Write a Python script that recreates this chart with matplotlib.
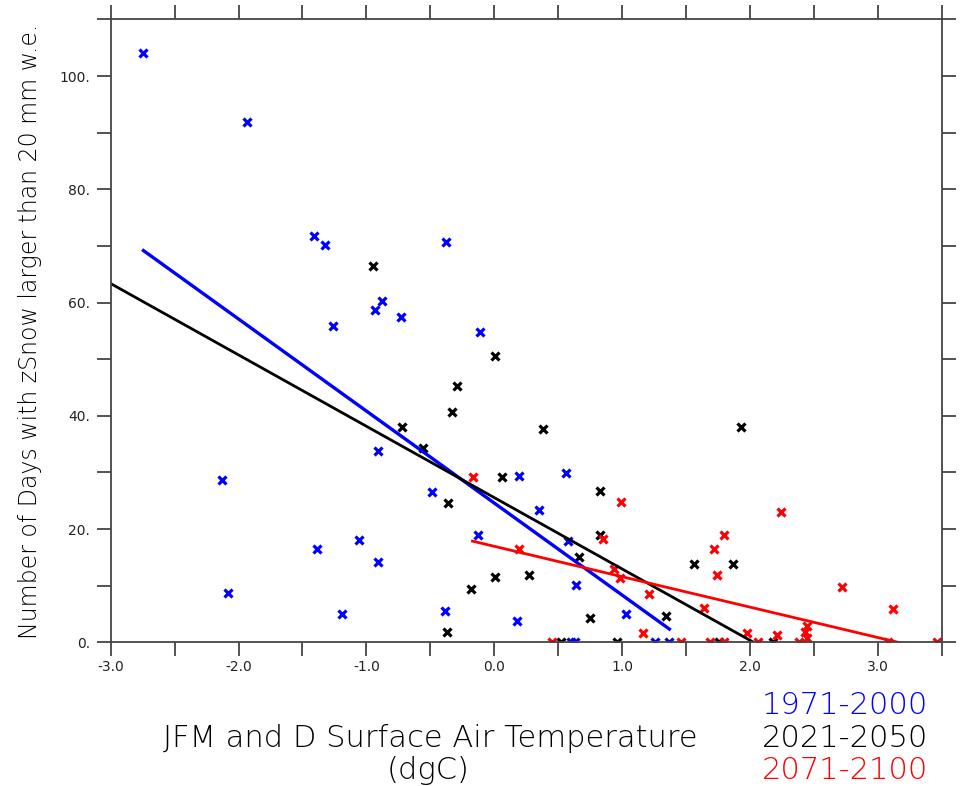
import numpy as np
import matplotlib
matplotlib.use("Agg")
import matplotlib.pyplot as plt
from matplotlib.ticker import MultipleLocator, FormatStrFormatter

# 1971-2000 (blue)
t_1971 = [-2.744, -1.936, -1.407, -1.32, -0.378, -1.26, -0.88, -0.93, -0.73, -0.11,
          -2.13, -0.91, -0.49, -1.39, -1.06, -0.91, -2.08, -1.19, -0.385, -0.125,
          0.19, 0.175, 0.35, 0.56, 0.58, 0.64, 1.03, 0.60, 0.63, 1.26, 1.37]
d_1971 = [104.0, 91.9, 71.8, 70.1, 70.7, 55.9, 60.2, 58.7, 57.5, 54.8,
          28.7, 33.8, 26.5, 16.5, 18.0, 14.2, 8.7, 5.0, 5.5, 18.9,
          29.4, 3.8, 23.3, 29.9, 17.9, 10.1, 5.0, 0.0, 0.0, 0.0, 0.0]

# 2021-2050 (black)
t_2021 = [-0.946, 0.005, -0.29, -0.33, 0.38, -0.72, -0.56, 0.058, 0.83, -0.36,
          0.83, 0.66, 0.008, 0.27, -0.18, 0.75, -0.37, 0.52, 0.96, 1.34,
          1.56, 1.87, 1.93, 1.76, 2.18]
d_2021 = [66.5, 50.6, 45.2, 40.6, 37.6, 38.0, 34.4, 29.2, 26.7, 24.6,
          19.0, 15.0, 11.5, 11.9, 9.4, 4.3, 1.8, 0.0, 0.0, 4.6,
          13.8, 13.8, 38.0, 0.0, 0.0]

# 2071-2100 (red)
t_2071 = [-0.17, 0.99, 0.19, 0.85, 0.94, 0.98, 0.45, 1.21, 1.16, 1.46,
          1.64, 1.69, 1.80, 1.72, 1.74, 1.80, 2.24, 1.98, 2.06, 2.21,
          2.38, 2.45, 2.43, 2.45, 2.72, 3.12, 3.08, 3.46]
d_2071 = [29.2, 24.7, 16.5, 18.2, 13.0, 11.4, 0.0, 8.6, 1.7, 0.0,
          6.0, 0.0, 0.0, 16.5, 11.9, 18.9, 23.0, 1.7, 0.0, 1.3,
          0.0, 2.8, 1.8, 0.8, 9.7, 5.8, 0.0, 0.0]

# regression lines: intercept, slope, x range
fit_a = [24.6, 25.56, 16.96]
fit_b = [-16.25, -12.6, -5.37]
fit_x0 = [-2.744, -3.0, -0.17]
fit_x1 = [1.37, 3.5, 3.46]

periods = ["1971-2000", "2021-2050", "2071-2100"]
colors = ["#0000ff", "#000000", "#ff0000"]
temps = [t_1971, t_2021, t_2071]
days = [d_1971, d_2021, d_2071]

fig = plt.figure(figsize=(9.61, 7.86), dpi=100)
ax = fig.add_axes([0.1152, 0.1828, 0.8647, 0.7924])

for t, d, c in zip(temps, days, colors):
    ax.plot(t, d, linestyle="none", marker="x", ms=6, mew=2.3, color=c)

lws = [2.4, 2.0, 2.0]
for a, b, x0, x1, c, lw in zip(fit_a, fit_b, fit_x0, fit_x1, colors, lws):
    xs = np.array([x0, x1])
    ax.plot(xs, a + b * xs, color=c, lw=lw)

ax.set_xlim(-3.0, 3.5)
ax.set_ylim(0, 110)
ax.xaxis.set_major_locator(MultipleLocator(1.0))
ax.xaxis.set_minor_locator(MultipleLocator(0.5))
ax.yaxis.set_major_locator(MultipleLocator(20))
ax.yaxis.set_minor_locator(MultipleLocator(10))
ax.xaxis.set_major_formatter(FormatStrFormatter("%.1f"))
ax.yaxis.set_major_formatter(FormatStrFormatter("%d."))

for s in ax.spines.values():
    s.set_color("#444444")
    s.set_linewidth(1.3)
ax.tick_params(which="both", direction="out", length=10, width=1.3, color="#444444",
               top=True, right=True, labelsize=10, labelcolor="#222222")
ax.tick_params(axis="x", pad=3)
ax.tick_params(axis="y", pad=5)

ax.set_ylabel("Number of Days with zSnow larger than 20 mm w.e.", fontsize=17,
              color="#000000", labelpad=12, fontweight="light")

fig.text(0.448, 0.060, "JFM and D Surface Air Temperature", fontsize=22,
         ha="center", va="center", color="#000000", fontweight="light")
fig.text(0.445, 0.020, "(dgC)", fontsize=22, ha="center", va="center",
         color="#000000", fontweight="light")

ys = [0.103, 0.060, 0.020]
for p, c, y in zip(periods, colors, ys):
    fig.text(0.966, y, p, fontsize=22, ha="right", va="center", color=c,
             fontweight="light")

plt.savefig("out.png", dpi=100)
plt.close()
